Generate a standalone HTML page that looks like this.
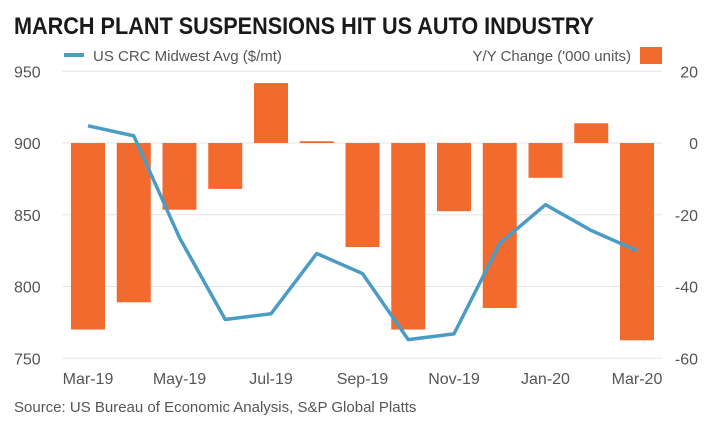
<!DOCTYPE html>
<html><head><meta charset="utf-8"><style>
body{margin:0;background:#fff;}
svg text{font-family:"Liberation Sans",sans-serif;}
</style></head><body>
<svg id="c" width="720" height="425" viewBox="0 0 720 425">
<text x="14" y="34" font-size="24" font-weight="bold" fill="#1a1a1a" textLength="580" lengthAdjust="spacingAndGlyphs">MARCH PLANT SUSPENSIONS HIT US AUTO INDUSTRY</text>
<g><line x1="64" y1="55" x2="84" y2="55" stroke="#4b9cc4" stroke-width="4"/>
<text x="93" y="61" font-size="15" fill="#555">US CRC Midwest Avg ($/mt)</text></g>
<g><text x="631" y="61" font-size="15" fill="#555" text-anchor="end">Y/Y Change ('000 units)</text>
<rect x="640" y="47" width="22" height="17" fill="#f26a2e"/></g>
<g id="g"></g>
<text x="14" y="412" font-size="15" fill="#555">Source: US Bureau of Economic Analysis, S&amp;P Global Platts</text>
</svg>
<script>
const categories=["Mar-19","Apr-19","May-19","Jun-19","Jul-19","Aug-19","Sep-19","Oct-19","Nov-19","Dec-19","Jan-20","Feb-20","Mar-20"];
const barValues=[-52,-44.4,-18.6,-12.8,16.7,0.5,-29,-52,-19,-46,-9.7,5.5,-55];
const lineValues=[912,905,834,777,781,823,809,763,767,830,857,839,825];
const leftTicks=[950,900,850,800,750];
const rightTicks=[20,0,-20,-40,-60];
const ns="http://www.w3.org/2000/svg",g=document.getElementById('g');
const yL=v=>143+(900-v)*(71.75/50), yR=v=>143-v*(71.75/20), x=i=>88+i*45.75;
function mk(t,a){const e=document.createElementNS(ns,t);for(const k in a)e.setAttribute(k,a[k]);g.appendChild(e);return e;}
leftTicks.forEach((v,i)=>{
 const l=mk('line',{x1:62,x2:662,y1:yL(v),y2:yL(v),stroke:'#e6e6e6','stroke-width':1});
 
 
 const t=mk('text',{x:14,y:yL(v)+6,'font-size':16,fill:'#555'});t.textContent=v;
 
 
 const r=mk('text',{x:698,y:yR(rightTicks[i])+6,'font-size':16,fill:'#555','text-anchor':'end'});r.textContent=rightTicks[i];
 
 
});
barValues.forEach((v,i)=>{
 const y0=yR(0),y1=yR(v);
 const b=mk('rect',{x:x(i)-17,width:34,y:Math.min(y0,y1),height:Math.max(1.5,Math.abs(y1-y0)),fill:'#f26a2e'});
 
 
});
const p=mk('polyline',{points:lineValues.map((v,i)=>x(i)+','+yL(v)).join(' '),fill:'none',stroke:'#4b9cc4','stroke-width':3.5,'stroke-linejoin':'round'});


categories.forEach((c,i)=>{if(i%2)return;
 const t=mk('text',{x:x(i),y:384,'font-size':16,fill:'#555','text-anchor':'middle'});t.textContent=c;
 
 
});
</script>
</body></html>
